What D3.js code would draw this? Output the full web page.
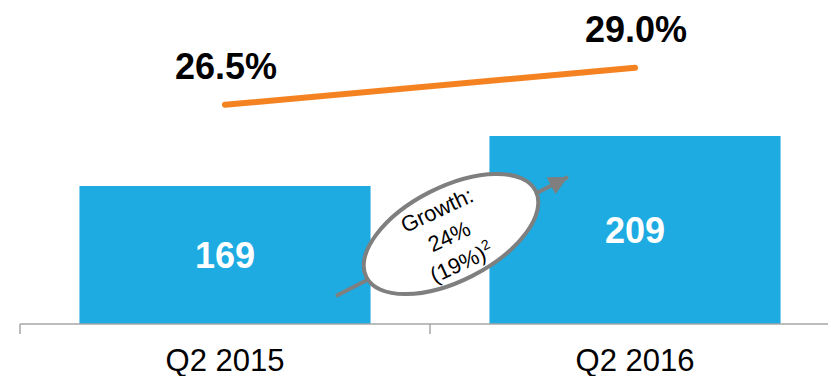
<!DOCTYPE html>
<html lang="en">

<head>
    <meta charset="UTF-8">
    <title>Q2 2015 vs Q2 2016</title>
    <style>
        body { margin: 0; background: #fff; }
        svg { display: block; font-family: "Liberation Sans", Arial, sans-serif; }
    </style>
</head>

<body>
    <script src="https://cdn.jsdelivr.net/npm/d3@7"></script>
    <script>
        const svg_w = 828;
        const svg_h = 376;

        // chart data
        const quarters = ['Q2 2015', 'Q2 2016'];
        const revenue = [169, 209];
        const margin_pct = [26.5, 29.0];
        const growth_lines = ['Growth:', '24%', '(19%)'];

        const bar_color = '#1eabe2';
        const line_color = '#f58220';
        const grey = '#7f7f7f';

        const svg = d3.select('body')
            .append('svg')
            .attr('width', svg_w)
            .attr('height', svg_h);

        const baseline = 324;

        const x = d3.scaleBand()
            .domain(quarters)
            .range([20, 840]);

        const y = d3.scaleLinear()
            .domain([58.6, 250])
            .range([baseline, 84.75]);

        const yPct = d3.scaleLinear()
            .domain([20, 30])
            .range([201, 53]);

        const barW = x.bandwidth() * 0.71;
        const cx = q => x(q) + x.bandwidth() / 2;

        // bars
        svg.selectAll('rect.bar')
            .data(quarters)
            .enter()
            .append('rect')
            .attr('class', 'bar')
            .attr('x', q => cx(q) - barW / 2)
            .attr('y', (q, i) => y(revenue[i]))
            .attr('width', barW)
            .attr('height', (q, i) => baseline - y(revenue[i]))
            .attr('fill', bar_color);

        svg.selectAll('text.bar-label')
            .data(quarters)
            .enter()
            .append('text')
            .attr('class', 'bar-label')
            .attr('x', q => cx(q))
            .attr('y', (q, i) => (y(revenue[i]) + baseline) / 2 + 13)
            .attr('text-anchor', 'middle')
            .attr('font-size', 36)
            .attr('font-weight', 'bold')
            .attr('fill', '#fff')
            .text((q, i) => revenue[i]);

        // axis
        svg.append('line')
            .attr('x1', x.range()[0])
            .attr('x2', svg_w)
            .attr('y1', baseline)
            .attr('y2', baseline)
            .attr('stroke', '#a6a6a6')
            .attr('stroke-width', 1.5);

        svg.selectAll('line.tick')
            .data(quarters)
            .enter()
            .append('line')
            .attr('class', 'tick')
            .attr('x1', q => x(q))
            .attr('x2', q => x(q))
            .attr('y1', baseline)
            .attr('y2', baseline + 10)
            .attr('stroke', '#a6a6a6')
            .attr('stroke-width', 1.5);

        const xAxis = svg.append('g')
            .attr('transform', `translate(0,${baseline})`)
            .call(d3.axisBottom(x).tickSize(0));
        xAxis.select('.domain').remove();
        xAxis.selectAll('text')
            .attr('y', 47)
            .attr('dy', 0)
            .attr('font-size', 31)
            .attr('font-family', '"Liberation Sans", Arial, sans-serif')
            .attr('fill', '#000');

        // margin line
        const line = d3.line()
            .x((d, i) => cx(quarters[i]))
            .y(d => yPct(d));

        svg.append('path')
            .datum(margin_pct)
            .attr('d', line)
            .attr('fill', 'none')
            .attr('stroke', line_color)
            .attr('stroke-width', 6)
            .attr('stroke-linecap', 'round');

        svg.selectAll('text.pct')
            .data(margin_pct)
            .enter()
            .append('text')
            .attr('class', 'pct')
            .attr('x', (d, i) => cx(quarters[i]) + 1)
            .attr('y', d => yPct(d) - 26)
            .attr('text-anchor', 'middle')
            .attr('font-size', 36)
            .attr('font-weight', 'bold')
            .attr('fill', '#000')
            .text(d => d.toFixed(1) + '%');

        // growth callout
        svg.append('defs')
            .append('marker')
            .attr('id', 'arrow')
            .attr('markerUnits', 'userSpaceOnUse')
            .attr('viewBox', '0 0 10 10')
            .attr('refX', 10)
            .attr('refY', 5)
            .attr('markerWidth', 20)
            .attr('markerHeight', 19)
            .attr('orient', 'auto')
            .append('path')
            .attr('d', 'M0,0 L10,5 L0,10 Z')
            .attr('fill', grey);

        svg.append('line')
            .attr('x1', 336)
            .attr('y1', 296)
            .attr('x2', 568)
            .attr('y2', 177)
            .attr('stroke', grey)
            .attr('stroke-width', 4)
            .attr('marker-end', 'url(#arrow)');

        svg.append('ellipse')
            .attr('transform', 'translate(451,234) rotate(-27)')
            .attr('rx', 95)
            .attr('ry', 47)
            .attr('fill', '#fff')
            .attr('stroke', grey)
            .attr('stroke-width', 4);

        const callout = svg.append('g')
            .attr('transform', 'translate(449,236) rotate(-25)');

        const ct = callout.selectAll('text')
            .data(growth_lines)
            .enter()
            .append('text')
            .attr('x', 0)
            .attr('y', (d, i) => (i - 1) * 29 + 8)
            .attr('text-anchor', 'middle')
            .attr('font-size', 22)
            .attr('fill', '#000')
            .text(d => d);

        ct.filter((d, i) => i === 2)
            .append('tspan')
            .attr('dy', -9)
            .attr('font-size', 14)
            .text('2');
    </script>
</body>

</html>
